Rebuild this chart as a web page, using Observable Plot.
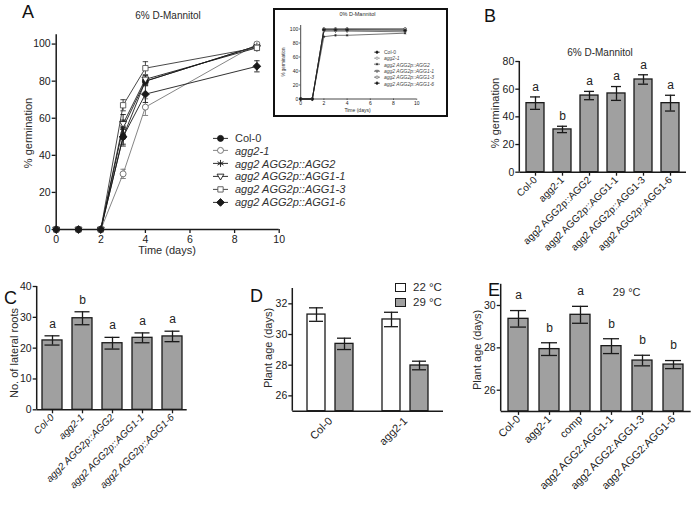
<!DOCTYPE html>
<html><head><meta charset="utf-8">
<script src="https://cdn.jsdelivr.net/npm/d3@7"></script>
<script src="https://cdn.jsdelivr.net/npm/@observablehq/plot@0.6"></script>
<style>
body{margin:0;background:#fff;}
#fig{position:relative;width:694px;height:507px;font-family:"Liberation Sans",Arial,sans-serif;color:#1a1a1a;overflow:hidden;background:#fff}
</style></head><body><div id="fig"></div><script>
// ---------- DATA ----------
// Panel A: germination time course (6% D-Mannitol)
const days = [0, 1, 2, 3, 4, 9];
const seriesA = ["Col-0", "agg2-1", "agg2 AGG2p::AGG2", "agg2 AGG2p::AGG1-1", "agg2 AGG2p::AGG1-3", "agg2 AGG2p::AGG1-6"];
const germ6Values = [
  [0, 0, 0, 50, 80, 99],
  [0, 0, 0, 30, 66, 100],
  [0, 0, 0, 55, 80, 99],
  [0, 0, 0, 57, 81, 98],
  [0, 0, 0, 67, 87, 98],
  [0, 0, 0, 50, 73, 88]
];
const germ6Errors = [
  [0, 0, 0, 5, 2, 1],
  [0, 0, 0, 2.5, 4.5, 1],
  [0, 0, 0, 4, 2, 1],
  [0, 0, 0, 5, 2, 1.5],
  [0, 0, 0, 3, 3.5, 1],
  [0, 0, 0, 4, 4.5, 3]
];
// Inset: 0% D-Mannitol
const germ0Values = [
  [0, 0, 100, 100, 100, 100],
  [0, 0, 98, 98, 98, 99],
  [0, 0, 89, 91, 91, 94],
  [0, 0, 97, 97, 97, 96],
  [0, 0, 100, 100, 100, 100],
  [0, 0, 99, 99, 99, 98]
];
const ticksTime = [0, 2, 4, 6, 8, 10];
const ticksGerm = [0, 20, 40, 60, 80, 100];

// Panel B
const genotypesB = ["Col-0", "agg2-1", "agg2 AGG2p::AGG2", "agg2 AGG2p::AGG1-1", "agg2 AGG2p::AGG1-3", "agg2 AGG2p::AGG1-6"];
const germB = [49.9, 30.9, 55.4, 56.9, 67, 49.9];
const germBErr = [4.5, 2.3, 3, 5, 3.4, 5.7];
const lettersB = ["a", "b", "a", "a", "a", "a"];
const ticksB = [0, 20, 40, 60, 80];

// Panel C
const genotypesC = ["Col-0", "agg2-1", "agg2 AGG2p::AGG2", "agg2 AGG2p::AGG1-1", "agg2 AGG2p::AGG1-6"];
const rootsC = [22.5, 29.7, 21.6, 23.35, 23.8];
const rootsCErr = [1.5, 2.1, 1.9, 1.6, 1.7];
const lettersC = ["a", "b", "a", "a", "a"];
const ticksC = [0, 10, 20, 30, 40];

// Panel D
const genotypesD = ["Col-0", "agg2-1"];
const tempsD = ["22 °C", "29 °C"];
const ageD22 = [31.3, 30.98];
const ageD22Err = [0.44, 0.47];
const ageD29 = [29.39, 27.98];
const ageD29Err = [0.37, 0.28];
const ticksD = [26, 28, 30, 32];

// Panel E
const genotypesE = ["Col-0", "agg2-1", "comp", "agg2 AGG2:AGG1-1", "agg2 AGG2:AGG1-3", "agg2 AGG2:AGG1-6"];
const ageE = [29.37, 27.94, 29.56, 28.08, 27.4, 27.21];
const ageEErr = [0.39, 0.3, 0.4, 0.35, 0.25, 0.19];
const lettersE = ["a", "b", "a", "b", "b", "b"];
const ticksE = [26, 28, 30];

// ---------- HELPERS ----------
const fig = document.getElementById("fig");
const FONT = '"Liberation Sans", Arial, sans-serif';
const INK = "#1a1a1a";
const GRAY = "#a0a0a0";
const fmtInt = d => String(d);
function baseStyle(size) {
  return {fontFamily: FONT, fontSize: size + "px", color: INK, background: "transparent", overflow: "visible"};
}
function put(el, left, top, parent = fig) {
  el.style.position = "absolute"; el.style.left = left + "px"; el.style.top = top + "px";
  parent.appendChild(el); return el;
}
function label(text, cx, cy, {size = 11, rotate = 0, italic = false, color = "#2a2a2a", parent = fig} = {}) {
  const d = document.createElement("div");
  d.textContent = text;
  d.style.cssText = `position:absolute;left:${cx}px;top:${cy}px;transform:translate(-50%,-50%) rotate(${rotate}deg);font-size:${size}px;white-space:nowrap;line-height:1;color:${color};${italic ? "font-style:italic;" : ""}`;
  parent.appendChild(d); return d;
}
function letter(text, left, top) {
  const d = document.createElement("div");
  d.textContent = text;
  d.style.cssText = `position:absolute;left:${left}px;top:${top}px;font-size:18px;line-height:1;color:#111`;
  fig.appendChild(d);
}
// left axis line drawn from the plot's own dimensions
function leftAxisLine(width) {
  return (...args) => {
    const dims = args.find(a => a && typeof a === "object" && "marginLeft" in a && "height" in a);
    const l = document.createElementNS("http://www.w3.org/2000/svg", "line");
    l.setAttribute("x1", dims.marginLeft); l.setAttribute("x2", dims.marginLeft);
    l.setAttribute("y1", dims.marginTop); l.setAttribute("y2", dims.height - dims.marginBottom);
    l.setAttribute("stroke", INK); l.setAttribute("stroke-width", width);
    return l;
  };
}
// custom symbols
const symCap = {draw(c, s) { const r = Math.sqrt(s / Math.PI); c.moveTo(-r, 0); c.lineTo(r, 0); }};
const symTriDown = {draw(c, s) { const r = Math.sqrt(s / Math.PI); c.moveTo(-r * 1.15, -r * 0.75); c.lineTo(r * 1.15, -r * 0.75); c.lineTo(0, r * 1.2); c.closePath(); }};
const symDiamond = {draw(c, s) { const r = Math.sqrt(s / Math.PI) * 1.3; c.moveTo(0, -r); c.lineTo(r, 0); c.lineTo(0, r); c.lineTo(-r, 0); c.closePath(); }};
const symAst = {draw(c, s) { const r = Math.sqrt(s / Math.PI) * 1.15;
  for (const a of [90, 30, 150]) { const t = a * Math.PI / 180; c.moveTo(-r * Math.cos(t), -r * Math.sin(t)); c.lineTo(r * Math.cos(t), r * Math.sin(t)); } }};
const stylesA = [
  {symbol: d3.symbolCircle, fill: INK, stroke: INK, line: INK},
  {symbol: d3.symbolCircle, fill: "white", stroke: "#6a6a6a", line: "#777"},
  {symbol: symAst, fill: "none", stroke: INK, line: INK},
  {symbol: symTriDown, fill: "white", stroke: INK, line: INK},
  {symbol: d3.symbolSquare, fill: "white", stroke: "#555", line: "#333"},
  {symbol: symDiamond, fill: INK, stroke: INK, line: INK}
];

function timeCourse(values, errors, {r, lw}) {
  const rows = seriesA.flatMap((s, i) => days.map((d, j) => ({series: s, i, day: d, value: values[i][j], err: errors ? errors[i][j] : 0})));
  const marks = [];
  seriesA.forEach((s, i) => {
    const st = stylesA[i];
    const sr = rows.filter(d => d.i === i);
    marks.push(Plot.line(sr, {x: "day", y: "value", stroke: st.line, strokeWidth: lw}));
  });
  seriesA.forEach((s, i) => {
    const st = stylesA[i];
    const er = rows.filter(d => d.i === i && d.err > 0);
    marks.push(Plot.ruleX(er, {x: "day", y1: d => d.value - d.err, y2: d => d.value + d.err, stroke: st.line, strokeWidth: lw}));
    marks.push(Plot.dot(er, {x: "day", y: d => d.value + d.err, symbol: symCap, r: r * 0.9, stroke: st.line, strokeWidth: lw}));
    marks.push(Plot.dot(er, {x: "day", y: d => d.value - d.err, symbol: symCap, r: r * 0.9, stroke: st.line, strokeWidth: lw}));
  });
  seriesA.forEach((s, i) => {
    const st = stylesA[i];
    const sr = rows.filter(d => d.i === i);
    marks.push(Plot.dot(sr, {x: "day", y: "value", symbol: st.symbol, r, fill: st.fill, stroke: st.stroke, strokeWidth: lw}));
  });
  return marks;
}

function legendA(parent, left, top, step, {symW, gap, size, r, lw, color}) {
  seriesA.forEach((s, i) => {
    const st = stylesA[i];
    const h = Math.max(step, 2 * r + 2);
    const svg = d3.create("svg").attr("width", symW).attr("height", h)
      .style("position", "absolute").style("left", left + "px").style("top", (top + i * step - h / 2) + "px").style("overflow", "visible");
    svg.append("line").attr("x1", 0).attr("x2", symW).attr("y1", h / 2).attr("y2", h / 2).attr("stroke", st.line).attr("stroke-width", lw);
    svg.append("path").attr("d", d3.symbol(st.symbol, r * r * Math.PI)()).attr("transform", `translate(${symW / 2},${h / 2})`)
      .attr("fill", st.fill).attr("stroke", st.stroke).attr("stroke-width", lw);
    parent.appendChild(svg.node());
    const t = label(s, 0, 0, {size, italic: i > 0, parent, color});
    t.style.left = (left + symW + gap) + "px"; t.style.top = (top + i * step) + "px"; t.style.transform = "translate(0,-50%)";
  });
}

// ---------- PANEL A ----------
const plotA = Plot.plot({
  width: 300, height: 265, marginLeft: 55.7, marginRight: 21.3, marginTop: 34.3, marginBottom: 36,
  style: baseStyle(10.5),
  x: {domain: [0, 10]}, y: {domain: [0, 105]},
  marks: [
    Plot.ruleY([0], {stroke: INK, strokeWidth: 1.5}),
    Plot.ruleX([0], {stroke: INK, strokeWidth: 1.5}),
    Plot.axisX({ticks: ticksTime, tickFormat: fmtInt, tickSize: 4, tickPadding: 2, label: null, strokeWidth: 1.3}),
    Plot.axisY({ticks: ticksGerm, tickFormat: fmtInt, tickSize: 4, tickPadding: 1.5, label: null, strokeWidth: 1.3}),
    ...timeCourse(germ6Values, germ6Errors, {r: 3, lw: 0.9})
  ]
});
put(plotA, 0, 0);
letter("A", 22, 3);
label("6% D-Mannitol", 168, 16, {size: 10});
label("% germination", 28, 133, {size: 11, rotate: -90});
label("Time (days)", 167, 250, {size: 11});
const legA = document.createElement("div");
legA.style.cssText = "position:absolute;left:0;top:0;width:0;height:0";
fig.appendChild(legA);
legendA(legA, 213, 138, 12.8, {symW: 15, gap: 7, size: 11, r: 3, lw: 0.9, color: "#333"});

// ---------- INSET ----------
const inset = document.createElement("div");
inset.style.cssText = "position:absolute;left:273px;top:8px;width:175px;height:109px;box-sizing:border-box;border:2.5px solid #111;background:#fff";
fig.appendChild(inset);
const plotInset = Plot.plot({
  width: 170, height: 104, marginLeft: 25.2, marginRight: 28.8, marginTop: 15, marginBottom: 15.5,
  style: baseStyle(5),
  x: {domain: [0, 10]}, y: {domain: [0, 105]},
  marks: [
    Plot.ruleY([0], {stroke: INK, strokeWidth: 0.8}),
    Plot.ruleX([0], {stroke: INK, strokeWidth: 0.8}),
    Plot.axisX({ticks: ticksTime, tickFormat: fmtInt, tickSize: 1.5, tickPadding: 1, label: null, strokeWidth: 0.6}),
    Plot.axisY({ticks: ticksGerm, tickFormat: fmtInt, tickSize: 1.5, tickPadding: 1, label: null, strokeWidth: 0.6}),
    ...timeCourse(germ0Values, null, {r: 1.2, lw: 0.6})
  ]
});
put(plotInset, 0, 0, inset);
label("0% D-Mannitol", 82.5, 4.5, {size: 5.5, parent: inset});
label("% germination", 9, 52, {size: 4.5, rotate: -90, parent: inset});
label("Time (days)", 82.5, 100, {size: 5, parent: inset});
legendA(inset, 99, 41.8, 6.35, {symW: 6, gap: 4, size: 5, r: 1.2, lw: 0.6, color: "#444"});

// ---------- BAR PANELS ----------
function barPanel(o) {
  const rows = o.cats.map((c, i) => ({cat: c, v: o.vals[i], e: o.errs[i], l: o.letters[i]}));
  const y0 = o.yDomain[0];
  const p = Plot.plot({
    width: o.width, height: o.height, marginLeft: o.mL, marginRight: o.mR, marginTop: o.mT, marginBottom: o.mB,
    style: baseStyle(10.5),
    x: {domain: o.cats, paddingInner: o.padIn, paddingOuter: o.padOut},
    y: {domain: o.yDomain},
    marks: [
      Plot.barY(rows, {x: "cat", y1: d => y0, y2: "v", fill: GRAY, stroke: INK, strokeWidth: 1.3}),
      Plot.ruleX(rows, {x: "cat", y1: d => d.v - d.e, y2: d => d.v + d.e, stroke: INK, strokeWidth: 1.3}),
      Plot.tickY(rows, {x: "cat", y: d => d.v + d.e, insetLeft: o.capInset, insetRight: o.capInset, stroke: INK, strokeWidth: 1.3}),
      Plot.tickY(rows, {x: "cat", y: d => d.v - d.e, insetLeft: o.capInset, insetRight: o.capInset, stroke: INK, strokeWidth: 1.3}),
      Plot.text(rows, {x: "cat", y: d => d.v + d.e, text: "l", dy: -o.letterDy, fontSize: 12, fill: "#222"}),
      Plot.ruleY([y0], {stroke: INK, strokeWidth: 1.5}),
      leftAxisLine(1.5),
      Plot.axisY({ticks: o.yTicks, tickFormat: fmtInt, tickSize: 4, tickPadding: 1.5, label: null, strokeWidth: 1.3}),
      Plot.axisX({tickRotate: -45, tickSize: 4, tickPadding: 2, label: null, strokeWidth: 1.3, fontSize: o.labelSize, fontStyle: o.italic ? "italic" : "normal"})
    ]
  });
  put(p, o.left, o.top);
}

// B
barPanel({left: 470, top: 40, width: 224, height: 220, mL: 49.3, mR: 8, mT: 21, mB: 88.3,
  cats: genotypesB, vals: germB, errs: germBErr, letters: lettersB, yDomain: [0, 80], yTicks: ticksB,
  padIn: 0.32, padOut: 0.16, capInset: 4, letterDy: 10, labelSize: 10, italic: false});
letter("B", 484, 7);
label("6% D-Mannitol", 600, 53, {size: 10});
label("% germination", 495, 113, {size: 11, rotate: -90});

// C
barPanel({left: 0, top: 270, width: 200, height: 237, mL: 36.7, mR: 13.3, mT: 16, mB: 97.7,
  cats: genotypesC, vals: rootsC, errs: rootsCErr, letters: lettersC, yDomain: [0, 40], yTicks: ticksC,
  padIn: 0.35, padOut: 0.13, capInset: 2.5, letterDy: 12, labelSize: 10, italic: true});
letter("C", 4, 289);
label("No. of lateral roots", 14, 353, {size: 11, rotate: -90});

// E
barPanel({left: 460, top: 270, width: 234, height: 237, mL: 40.7, mR: 3.3, mT: 13.8, mB: 96.1,
  cats: genotypesE, vals: ageE, errs: ageEErr, letters: lettersE, yDomain: [25, 31], yTicks: ticksE,
  padIn: 0.36, padOut: 0.215, capInset: 2, letterDy: 15, labelSize: 10.8, italic: false});
letter("E", 488, 281);
label("29 °C", 626.7, 291.7, {size: 11});
label("Plant age (days)", 476.7, 350, {size: 11, rotate: -90});

// ---------- PANEL D (grouped) ----------
const rowsD22 = genotypesD.map((g, i) => ({g, t: tempsD[0], v: ageD22[i], e: ageD22Err[i]}));
const rowsD29 = genotypesD.map((g, i) => ({g, t: tempsD[1], v: ageD29[i], e: ageD29Err[i]}));
const outer = 7, inner = 35, half = 14;
function groupMarks(rows, fill, inL, inR, dx) {
  return [
    Plot.barY(rows, {x: "g", y1: d => 25, y2: "v", fill, stroke: INK, strokeWidth: 1.3, insetLeft: inL, insetRight: inR}),
    Plot.ruleX(rows, {x: "g", y1: d => d.v - d.e, y2: d => d.v + d.e, dx, stroke: INK, strokeWidth: 1.3}),
    Plot.tickY(rows, {x: "g", y: d => d.v + d.e, insetLeft: inL + 2, insetRight: inR + 2, stroke: INK, strokeWidth: 1.3}),
    Plot.tickY(rows, {x: "g", y: d => d.v - d.e, insetLeft: inL + 2, insetRight: inR + 2, stroke: INK, strokeWidth: 1.3})
  ];
}
const plotD = Plot.plot({
  width: 220, height: 237, marginLeft: 52.3, marginRight: 17, marginTop: 18, marginBottom: 96.3,
  style: baseStyle(10.5),
  x: {domain: genotypesD, paddingInner: 0.2, paddingOuter: 0.1},
  y: {domain: [25, 33]},
  marks: [
    ...groupMarks(rowsD22, "white", outer, inner, -half),
    ...groupMarks(rowsD29, GRAY, inner, outer, half),
    Plot.ruleY([25], {stroke: INK, strokeWidth: 1.5}),
    leftAxisLine(1.5),
    Plot.axisY({ticks: ticksD, tickFormat: fmtInt, tickSize: 4, tickPadding: 1.5, label: null, strokeWidth: 1.3}),
    Plot.axisX({tickRotate: -45, tickSize: 0, tickPadding: 8, label: null, fontSize: 11})
  ]
});
put(plotD, 240, 270);
letter("D", 250, 287);
label("Plant age (days)", 268, 348, {size: 11, rotate: -90});
// D legend
[[tempsD[0], "white", 287.5], [tempsD[1], GRAY, 302.5]].forEach(([t, f, cy]) => {
  const b = document.createElement("div");
  b.style.cssText = `position:absolute;left:395px;top:${cy - 4.5}px;width:10.5px;height:9px;box-sizing:border-box;border:1.3px solid ${INK};background:${f}`;
  fig.appendChild(b);
  const tx = label(t, 0, 0, {size: 11.5});
  tx.style.left = "413px"; tx.style.top = cy + "px"; tx.style.transform = "translate(0,-50%)";
});
</script></body></html>
